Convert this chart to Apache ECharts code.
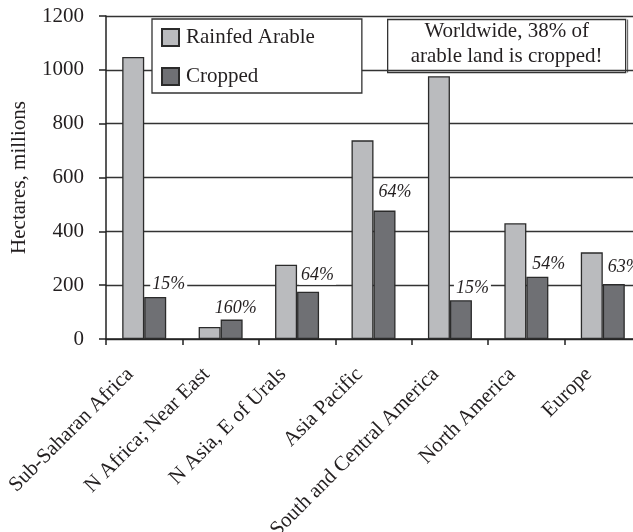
<!DOCTYPE html>
<html>
<head>
<meta charset="utf-8">
<title>Rainfed arable vs cropped land</title>
<script src="https://cdn.jsdelivr.net/npm/echarts@6/dist/echarts.min.js"></script>
<style>
  html, body { margin: 0; padding: 0; background: #ffffff; }
  #chart { width: 633px; height: 532px; }
</style>
</head>
<body>
<div id="chart"></div>
<script>
// Regions, in axis order
const regions = [
  'Sub-Saharan Africa',
  'N Africa; Near East',
  'N Asia, E of Urals',
  'Asia Pacific',
  'South and Central America',
  'North America',
  'Europe'
];
// Hectares, millions
const rainfedArable = [1048, 45, 276, 738, 976, 430, 322];
const cropped = [156, 72, 176, 477, 144, 231, 204];
// Cropped share of rainfed arable land, as printed above each region
const croppedShare = ['15%', '160%', '64%', '64%', '15%', '54%', '63%'];
// Value axis ticks
const yMin = 0, yMax = 1200, yStep = 200;

const serif = '"Liberation Serif", "Times New Roman", serif';
const ink = '#231f20';

// Small per-label nudges so each share label sits clear of its neighbours
const shareLabelNudge = [[3, 1], [-11, 3], [-1, -2], [0, -4], [1, 2], [1, 1], [0, -3]];

const croppedItems = cropped.map((v, i) => ({
  value: v,
  label: { offset: [-8 + shareLabelNudge[i][0], shareLabelNudge[i][1]] }
}));

const chart = echarts.init(document.getElementById('chart'), null, { renderer: 'canvas' });

const option = {
  backgroundColor: '#ffffff',
  animation: false,
  textStyle: { fontFamily: serif, color: ink },
  grid: { left: 106, top: 16, width: 535, height: 323, outerBoundsMode: 'none', containLabel: false },
  legend: {
    orient: 'vertical',
    left: 152,
    top: 19,
    padding: [8, 47, 6, 9],
    itemWidth: 17,
    itemHeight: 17,
    itemGap: 18,
    icon: 'rect',
    backgroundColor: '#ffffff',
    borderColor: '#333333',
    borderWidth: 1.3,
    textStyle: { fontFamily: serif, fontSize: 21, color: ink, padding: [0, 0, 0, 2] },
    data: ['Rainfed Arable', 'Cropped']
  },
  xAxis: {
    type: 'category',
    data: regions,
    boundaryGap: true,
    axisLine: { show: true, lineStyle: { color: '#222222', width: 1.5 } },
    axisTick: { show: true, length: 6, alignWithLabel: false, lineStyle: { color: '#222222', width: 1.5 } },
    axisLabel: {
      rotate: 45,
      interval: 0,
      margin: 18,
      padding: [0, 20, 0, 0],
      fontFamily: serif,
      fontSize: 21,
      color: ink
    }
  },
  yAxis: {
    type: 'value',
    min: yMin,
    max: yMax,
    interval: yStep,
    name: 'Hectares, millions',
    nameLocation: 'middle',
    nameGap: 76,
    nameRotate: 90,
    nameTextStyle: { fontFamily: serif, fontSize: 21, color: ink },
    axisLine: { show: true, lineStyle: { color: '#222222', width: 1.5 } },
    axisTick: { show: true, length: 7, inside: false, lineStyle: { color: '#222222', width: 1.5 } },
    axisLabel: {
      margin: 22,
      fontFamily: serif,
      fontSize: 21,
      color: ink,
      formatter: (v) => String(v)
    },
    splitLine: { show: true, lineStyle: { color: '#333333', width: 1.4 } }
  },
  series: [
    {
      name: 'Rainfed Arable',
      type: 'bar',
      data: rainfedArable,
      barWidth: 22,
      barGap: '0%',
      itemStyle: { color: '#babbbe', borderColor: '#2b2b2b', borderWidth: 1.3 }
    },
    {
      name: 'Cropped',
      type: 'bar',
      data: croppedItems,
      barWidth: 22,
      barGap: '0%',
      itemStyle: { color: '#6f7074', borderColor: '#2b2b2b', borderWidth: 1.3 },
      label: {
        show: true,
        position: 'top',
        distance: 5,
        align: 'left',
        formatter: (p) => croppedShare[p.dataIndex],
        fontFamily: serif,
        fontStyle: 'italic',
        fontSize: 18,
        color: ink,
        backgroundColor: '#ffffff',
        padding: [0, 2, 0, 2]
      }
    }
  ],
  graphic: [
    {
      type: 'group',
      left: 387,
      top: 17,
      children: [
        {
          type: 'rect',
          shape: { x: 0, y: 0, width: 238, height: 53 },
          style: { fill: '#ffffff', stroke: '#333333', lineWidth: 1.3 }
        },
        {
          type: 'line',
          shape: { x1: 240, y1: 0, x2: 240, y2: 53 },
          style: { stroke: '#555555', lineWidth: 1 }
        },
        {
          type: 'text',
          x: 119,
          y: 12,
          style: {
            text: 'Worldwide, 38% of',
            fontFamily: serif,
            fontSize: 21,
            fill: ink,
            align: 'center',
            verticalAlign: 'middle'
          }
        },
        {
          type: 'text',
          x: 119,
          y: 37,
          style: {
            text: 'arable land is cropped!',
            fontFamily: serif,
            fontSize: 21,
            fill: ink,
            align: 'center',
            verticalAlign: 'middle'
          }
        }
      ]
    }
  ]
};

chart.setOption(option);
</script>
</body>
</html>
